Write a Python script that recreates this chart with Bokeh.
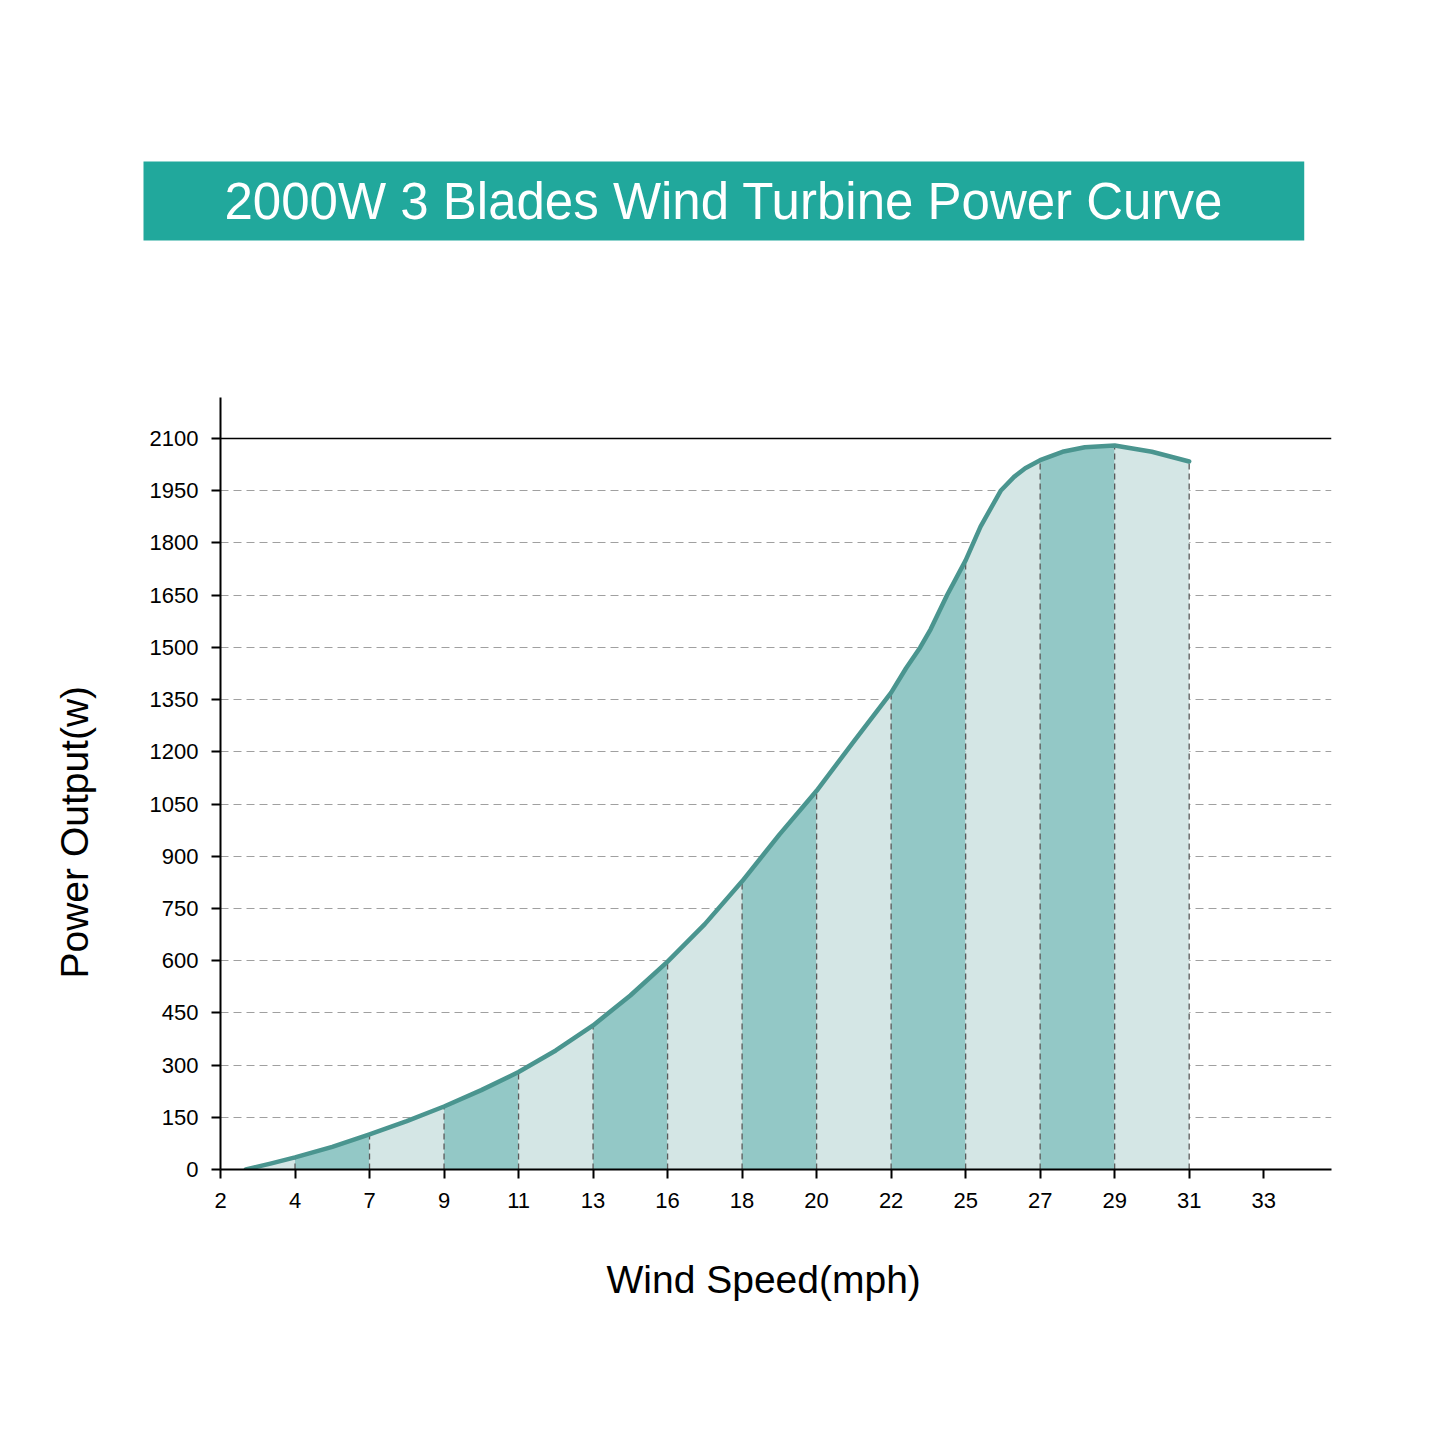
from bokeh.plotting import figure
from bokeh.models import Range1d, FixedTicker, Span, Title
from bokeh.embed import file_html
from bokeh.resources import INLINE

# ---------------- data ----------------
TITLE = "2000W 3 Blades Wind Turbine Power Curve"
X_LABEL = "Wind Speed(mph)"
Y_LABEL = "Power Output(w)"

# tick labels of the (evenly spaced) wind-speed axis
wind_speed_ticks = [2, 4, 7, 9, 11, 13, 16, 18, 20, 22, 25, 27, 29, 31, 33]
power_ticks = list(range(0, 2101, 150))

# power curve, position measured in tick steps along the wind-speed axis
curve_pos = [0.34, 0.67, 1.0, 1.5, 2.0, 2.5, 3.0, 3.5, 4.0, 4.5, 5.0, 5.5, 6.0,
             6.5, 7.0, 7.5, 8.0, 8.5, 9.0, 9.2, 9.39, 9.53, 9.75, 10.0, 10.2,
             10.47, 10.65, 10.8, 11.0, 11.3, 11.6, 12.0, 12.5, 13.0]
curve_watts = [0, 17, 35, 65, 101, 139, 181, 228, 280, 342, 414, 500, 597,
               705, 828, 962, 1088, 1230, 1370, 1440, 1500, 1552, 1650, 1750, 1847,
               1950, 1990, 2015, 2038, 2062, 2075, 2080, 2062, 2034]

# shaded bands between consecutive wind-speed ticks
band_start = [0.34, 1, 2, 3, 4, 5, 6, 7, 8, 9, 10, 11, 12]
band_end = [1, 2, 3, 4, 5, 6, 7, 8, 9, 10, 11, 12, 13]
band_shade = ["light", "dark", "light", "dark", "light", "dark", "light",
              "dark", "light", "dark", "light", "dark", "light"]
divider_pos = list(range(1, 14))

# ---------------- styles ----------------
FONT = "Liberation Sans"
TEAL = "#21a89c"
LINE = "#4a958f"
SHADES = {"dark": "#93c8c6", "light": "#d4e6e5"}

p = figure(frame_width=1111, frame_height=772,
           x_range=Range1d(0, 14.91), y_range=Range1d(0, 2218),
           toolbar_location=None, output_backend="svg",
           min_border_left=220, min_border_right=106,
           min_border_top=397, min_border_bottom=268,
           outline_line_color=None)

# title banner
p.title = Title(text=TITLE, align="left", offset=-77, standoff=314,
                text_font=FONT, text_font_size="51px", text_font_style="normal",
                text_color="white", background_fill_color=TEAL,
                padding=dict(left=81, right=81, top=11, bottom=11))

# grid
p.xgrid.visible = False
p.ygrid.ticker = FixedTicker(ticks=[t for t in power_ticks if 0 < t < 2100])
p.ygrid.grid_line_color = "#a0a0a0"
p.ygrid.grid_line_dash = "8 5"
p.ygrid.grid_line_width = 1
p.add_layout(Span(location=power_ticks[-1], dimension="width",
                  line_color="black", line_width=1.5))

# bands
for s, e, shade in zip(band_start, band_end, band_shade):
    xs = [x for x in curve_pos if s <= x <= e]
    ys = [w for x, w in zip(curve_pos, curve_watts) if s <= x <= e]
    p.varea(x=xs, y1=[0] * len(xs), y2=ys, fill_color=SHADES[shade])

# dashed dividers
div_top = [curve_watts[curve_pos.index(float(d))] for d in divider_pos]
p.segment(x0=divider_pos, y0=[0] * len(divider_pos), x1=divider_pos, y1=div_top,
          line_color="#5a5a5a", line_dash="6 4", line_width=1.3)

# curve
p.line(curve_pos, curve_watts, line_color=LINE, line_width=4.5,
       line_join="round", line_cap="round")

# axes
p.xaxis.ticker = FixedTicker(ticks=list(range(len(wind_speed_ticks))))
p.xaxis.major_label_overrides = {i: str(s) for i, s in enumerate(wind_speed_ticks)}
p.yaxis.ticker = FixedTicker(ticks=power_ticks)

for ax in (p.xaxis[0], p.yaxis[0]):
    ax.axis_line_color = "black"
    ax.axis_line_width = 2
    ax.major_tick_line_color = "black"
    ax.major_tick_line_width = 2
    ax.major_tick_out = 9
    ax.major_tick_in = 0
    ax.minor_tick_line_color = None
    ax.major_label_text_font = FONT
    ax.major_label_text_font_size = "22px"
    ax.major_label_text_color = "black"

p.xaxis.major_label_standoff = 14
p.yaxis.major_label_standoff = 13

# axis titles as side titles
p.add_layout(Title(text=X_LABEL, align="left", offset=386, standoff=91,
                   text_font=FONT, text_font_size="39px", text_font_style="normal",
                   text_color="black"), "below")
p.add_layout(Title(text=Y_LABEL, align="left", offset=191, standoff=101,
                   text_font=FONT, text_font_size="39px", text_font_style="normal",
                   text_color="black"), "left")

open("out.html", "w").write(file_html(p, INLINE))
